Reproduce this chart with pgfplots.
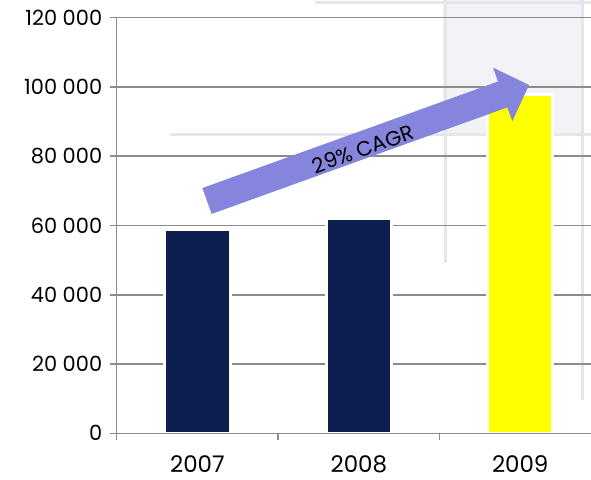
\documentclass[border=0pt]{standalone}
\usepackage{pgfplots}
\pgfplotsset{compat=1.18}
\usepackage{fontspec}
\setmainfont{Poppins}

\definecolor{navy}{RGB}{13,31,79}
\definecolor{barYellow}{RGB}{255,255,0}
\definecolor{gridgray}{RGB}{140,140,140}
\definecolor{arrowblue}{RGB}{133,133,221}
\definecolor{bgpanel}{RGB}{241,243,247}
\definecolor{bgline}{RGB}{228,230,235}

\begin{document}
\begin{tikzpicture}[x=1bp,y=1bp]
% faint slide background behind the chart
\fill[bgpanel] (443,347) rectangle (583,480);
\draw[bgline, line width=3bp] (170,345) -- (591,345);
\draw[bgline, line width=3bp] (315,477.5) -- (591,477.5);
\draw[bgline, line width=3bp] (445,480) -- (445,217);
\draw[bgline, line width=3bp] (582,480) -- (582,80);

\begin{axis}[
    at={(116.7bp,46.7bp)}, anchor=south west,
    scale only axis,
    width=474.3bp, height=415.6bp,
    xmin=-0.5, xmax=2.4387,
    ymin=0, ymax=120000,
    scaled y ticks=false,
    axis lines*=left,
    axis line style={gridgray, line width=1.5bp},
    tick align=outside,
    major tick length=7bp,
    tick style={gridgray, line width=1.5bp},
    ytick={0,20000,40000,60000,80000,100000,120000},
    yticklabels={0,20 000,40 000,60 000,80 000,100 000,120 000},
    ymajorgrids=true,
    grid style={gridgray, line width=1.5bp},
    xtick={-0.5,0.5,1.5},
    xticklabels={},
    extra x ticks={0,1,2},
    extra x tick labels={2007,2008,2009},
    extra x tick style={major tick length=0pt, grid=none},
    y tick label style={font=\fontsize{21}{21}\selectfont, text=black, xshift=-4bp},
    x tick label style={font=\fontsize{23}{23}\selectfont, text=black,
        inner sep=1bp, yshift=-21bp},
    /pgf/number format/assume math mode=true,
]
\addplot[ybar, bar width=65.5bp, fill=navy, draw=white, line width=3bp]
    coordinates {(0,58700) (1,62100)};
\addplot[ybar, bar width=65.5bp, fill=barYellow, draw=white, line width=3bp]
    coordinates {(2,97700)};
\draw[gridgray, line width=1.5bp] (axis cs:-0.5,0) -- (axis cs:2.4387,0);
\end{axis}

% growth arrow
\fill[arrowblue, shift={(207,279)}, rotate=19.81]
    (0,-13.75) -- (314.3,-13.75) -- (314.3,-28.5) -- (342.3,0)
    -- (314.3,28.5) -- (314.3,13.75) -- (0,13.75) -- cycle;
\node[rotate=19.81, font=\fontsize{21}{21}\selectfont, text=black]
    at (363,331) {29\% CAGR};

\pgfresetboundingbox
\useasboundingbox (0,0) rectangle (591,480);
\end{tikzpicture}
\end{document}
